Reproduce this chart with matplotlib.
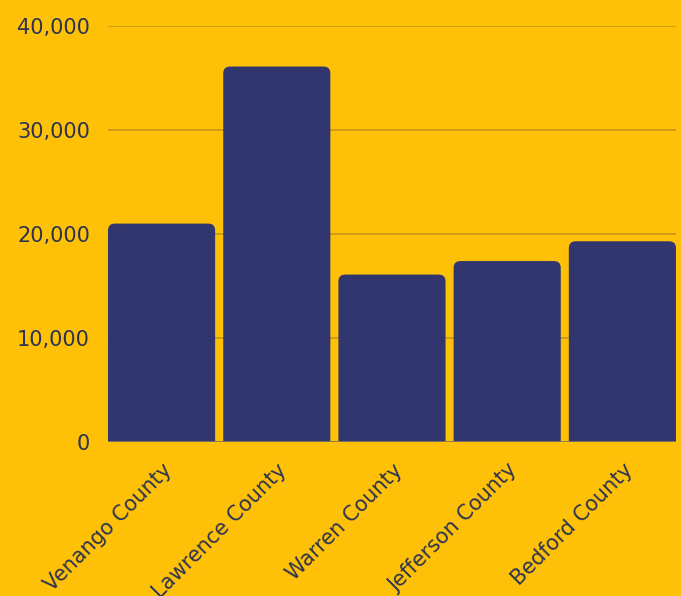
import matplotlib.pyplot as plt
from matplotlib.patches import PathPatch
from matplotlib.path import Path
from matplotlib.ticker import FuncFormatter

counties = ["Venango County", "Lawrence County", "Warren County",
            "Jefferson County", "Bedford County"]
values = [21000, 36100, 16100, 17400, 19300]

BG = "#FFC107"
BAR = "#32366E"
TEXT = "#2B3350"

plt.rcParams["font.family"] = ["DejaVu Sans"]


def top_rounded(x0, w, h, rx, ry):
    # bar outline with square bottom and rounded top corners
    verts = [(x0, 0), (x0, h - ry), (x0, h), (x0 + rx, h),
             (x0 + w - rx, h), (x0 + w, h), (x0 + w, h - ry),
             (x0 + w, 0), (x0, 0)]
    codes = [Path.MOVETO, Path.LINETO, Path.CURVE3, Path.CURVE3,
             Path.LINETO, Path.CURVE3, Path.CURVE3,
             Path.LINETO, Path.CLOSEPOLY]
    return Path(verts, codes)


fig = plt.figure(figsize=(6.81, 5.96), dpi=100, facecolor=BG)
ax = fig.add_axes([0.1586, 0.2584, 0.834, 0.698], facecolor=BG)

width = 0.93
x = range(len(counties))
bars = ax.bar(x, values, width=width, color="none")

for b in bars:
    ax.add_patch(PathPatch(top_rounded(b.get_x(), b.get_width(), b.get_height(), 0.06, 650),
                           facecolor=BAR, edgecolor="none", zorder=3))

ax.set_xlim(-width / 2, len(counties) - 1 + width / 2)
ax.set_ylim(0, 40000)
ax.set_yticks([0, 10000, 20000, 30000, 40000])
ax.yaxis.set_major_formatter(FuncFormatter(lambda v, _: f"{int(v):,}"))
ax.grid(axis="y", color="#C2981C", linewidth=1.2, zorder=1)
ax.axhline(0, color="#857A5A", linewidth=1.2, zorder=4)

for s in ax.spines.values():
    s.set_visible(False)
ax.tick_params(length=0, colors=TEXT, labelsize=15)
ax.tick_params(axis="y", pad=13)
ax.set_xticks(list(x))
ax.set_xticklabels(counties, rotation=45, ha="right", rotation_mode="anchor")
ax.tick_params(axis="x", pad=13)

fig.savefig("out.png", dpi=100, facecolor=BG)
